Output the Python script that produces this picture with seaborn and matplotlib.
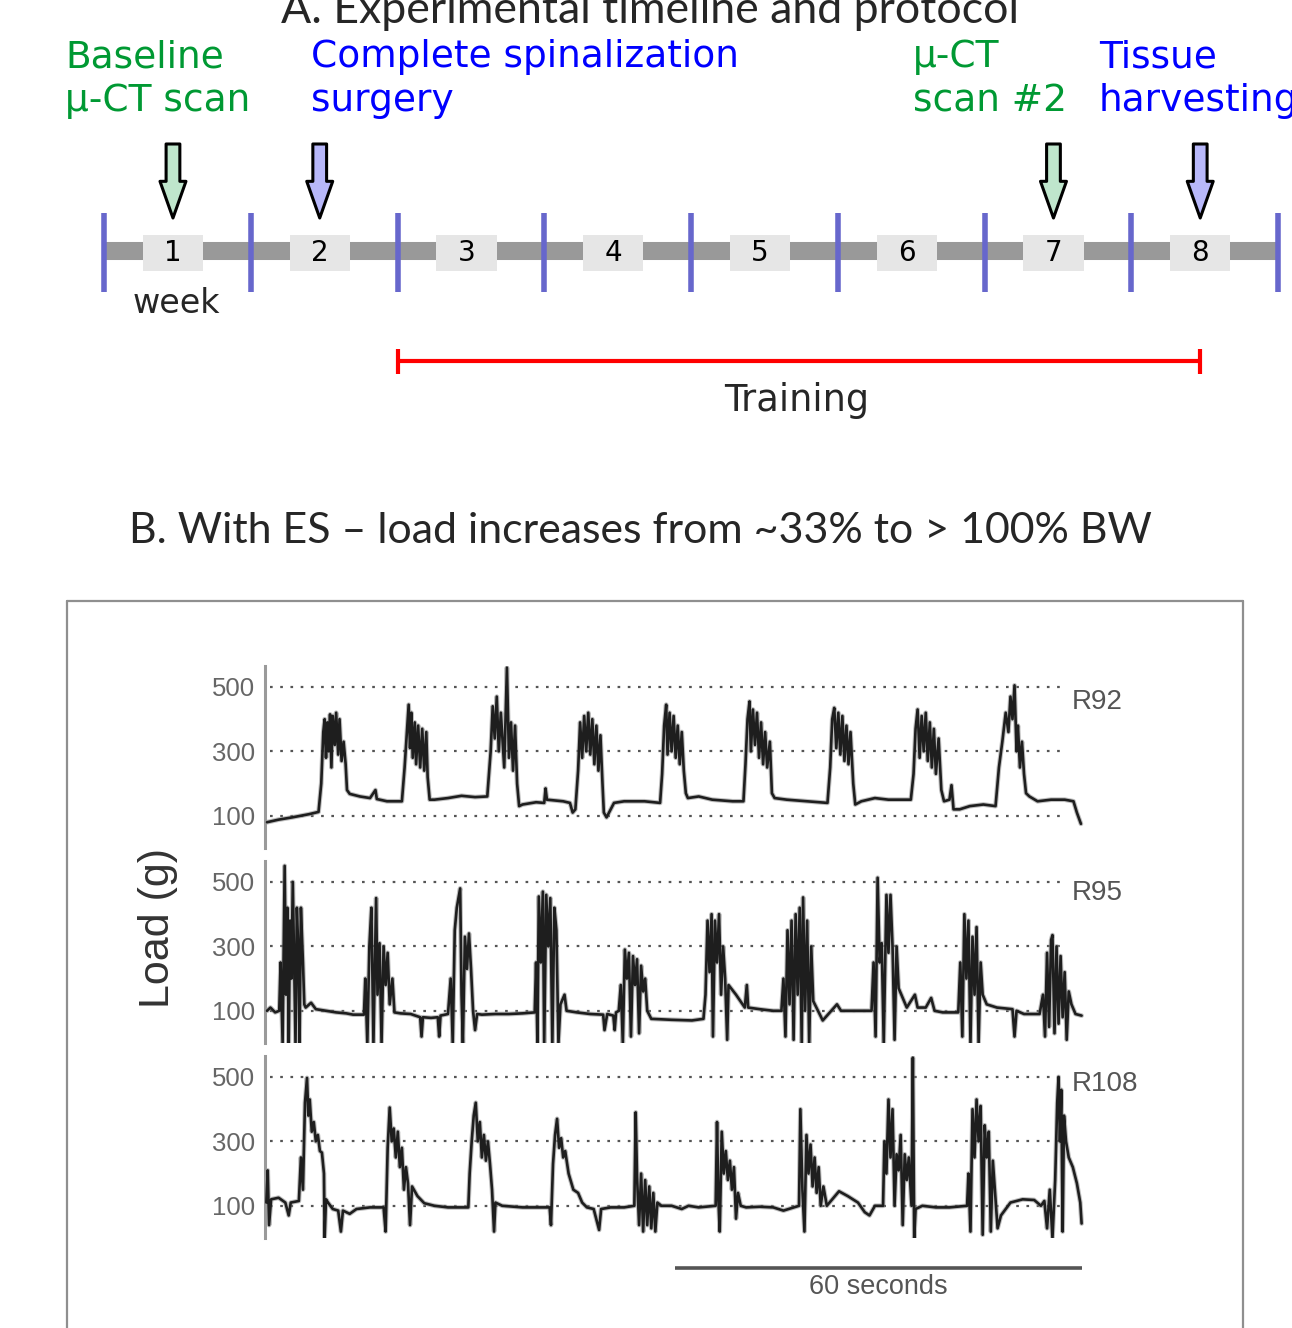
import matplotlib
matplotlib.use("Agg")
import matplotlib.pyplot as plt
import matplotlib.transforms as mtransforms
from matplotlib.patches import Rectangle
from matplotlib.lines import Line2D
import seaborn as sns

# ------------------------------------------------------------------ data
weeks = [1, 2, 3, 4, 5, 6, 7, 8]
event_weeks = [1, 2, 7, 8]
event_kinds = ["scan", "surgery", "scan", "surgery"]
event_lines = [["Baseline", "\u03bc-CT scan"],
               ["Complete spinalization", "surgery"],
               ["\u03bc-CT", "scan #2"],
               ["Tissue", "harvesting"]]
training_start_week = 3      # training starts with week 3
training_end_week = 8        # ends at tissue harvesting (mid week 8)

title_a = "A. Experimental timeline and protocol"
title_b = "B. With ES \u2013 load increases from ~33% to > 100% BW"
rat_names = ["R92", "R95", "R108"]
load_ticks = [100, 300, 500]
load_minor = [200, 400]
scale_bar_seconds = 60

# load traces: time (s) and load (g)
r92_t = [0.3, 2, 4, 6.5, 7.9,
         8.3, 8.6, 8.8, 9.0, 9.2, 9.4, 9.6, 9.8, 10.0, 10.3, 10.5, 10.8, 11.0, 11.3, 11.6, 11.9, 12.1, 12.5,
         14, 15.5, 16.3, 16.5, 18, 20.2,
         20.6, 20.9, 21.2, 21.4, 21.6, 21.8, 22.1, 22.3, 22.6, 22.9, 23.2, 23.5, 23.8, 24.0, 24.3, 25,
         27, 29, 31, 32.8,
         33.3, 33.6, 33.9, 34.2, 34.5, 34.8, 35.3, 35.7, 36.0, 36.3, 36.6, 36.9, 37.2, 37.5,
         38, 40, 41.2, 41.4, 41.6, 44, 45.0, 45.4, 45.8,
         46.2, 46.5, 46.8, 47.1, 47.4, 47.7, 48.0, 48.3, 48.6, 48.9, 49.2, 49.5, 49.8, 50.0, 50.4,
         51.5, 53, 56, 58.3,
         58.6, 58.9, 59.2, 59.4, 59.7, 60.0, 60.3, 60.6, 60.9, 61.2, 61.5, 61.8, 62.1, 62.4,
         64, 66, 69, 70.6,
         70.9, 71.2, 71.5, 71.7, 72.0, 72.3, 72.6, 72.9, 73.2, 73.5, 73.8, 74.1, 74.5, 74.8, 75.2,
         77, 80, 83.0,
         83.4, 83.7, 84.0, 84.3, 84.6, 84.9, 85.2, 85.5, 85.8, 86.1, 86.4, 86.8, 87.1,
         88, 90, 92, 95.3,
         95.7, 96.0, 96.3, 96.6, 96.9, 97.2, 97.5, 97.8, 98.1, 98.4, 98.7, 99.0, 99.4, 99.8, 100.2,
         101.0, 101.3, 101.6, 102.5, 104, 106, 107.8,
         108.3, 108.8, 109.3, 109.7, 110.0, 110.3, 110.6, 110.9, 111.1, 111.4, 111.7, 112.0, 112.3, 112.8,
         114, 116, 118, 119.3, 119.8, 120.4]
r92_g = [80, 88, 95, 105, 112,
         200, 360, 400, 280, 390, 300, 415, 250, 410, 320, 420, 290, 400, 270, 330, 260, 180, 168,
         160, 155, 180, 152, 145, 145,
         250, 350, 445, 310, 420, 280, 390, 260, 380, 250, 370, 240, 360, 220, 150, 150,
         155, 162, 158, 160,
         300, 440, 340, 470, 300, 420, 250, 560, 280, 390, 240, 380, 200, 130,
         135, 142, 140, 185, 150, 145, 140, 110, 120,
         240, 390, 280, 410, 300, 420, 290, 400, 260, 380, 240, 350, 200, 110, 95,
         140, 145, 145, 140,
         230, 380, 445, 290, 420, 300, 410, 280, 380, 260, 360, 240, 170, 155,
         160, 150, 145, 145,
         260, 400, 455, 300, 430, 320, 420, 280, 390, 260, 360, 250, 330, 170, 155,
         150, 145, 140,
         250, 400, 435, 310, 420, 290, 410, 270, 380, 260, 360, 200, 135,
         145, 155, 150, 150,
         230, 370, 430, 280, 410, 300, 420, 270, 390, 250, 370, 230, 340, 180, 145,
         150, 195, 120, 120, 130, 135, 130,
         250, 330, 420, 360, 470, 400, 505, 300, 380, 250, 330, 230, 170, 160,
         145, 150, 150, 145, 110, 75]

r95_t = [0.3, 0.8, 1.5, 2.1,
         2.3, 2.6, 2.9, 3.1, 3.3, 3.5, 3.7, 3.9, 4.1, 4.3, 4.5, 4.7, 4.9, 5.1, 5.3, 5.6, 5.8, 6.0,
         6.8, 7.5, 9, 10.5, 12, 13, 14.6,
         14.8, 15.1, 15.4, 15.7, 16.0, 16.4, 16.6, 16.9, 17.2, 17.5, 17.8, 18.1, 18.4, 18.8, 19.1,
         20, 21.5, 22.9, 23.1, 23.3, 24.5, 25.5, 25.7, 25.9, 27.0,
         27.4, 27.7, 28.0, 28.3, 28.8, 29.0, 29.2, 29.5, 29.8, 30.1, 30.4, 30.7, 31.0, 31.3,
         32, 34, 36, 38, 39.8,
         40.0, 40.2, 40.4, 40.7, 41.0, 41.2, 41.5, 41.8, 42.1, 42.4, 42.7, 43.0, 43.3, 43.6, 44.2, 44.5,
         46, 48, 49.9, 50.1, 50.5, 51.4, 51.6, 51.8, 52.2,
         52.5, 52.8, 53.1, 53.4, 53.7, 54.0, 54.3, 54.6, 54.9, 55.2, 55.5, 55.8, 56.1, 56.4,
         57.0, 60, 63, 64.7,
         65.0, 65.3, 65.6, 65.9, 66.1, 66.4, 66.7, 67.0, 67.3, 67.6, 67.9, 68.2, 68.4,
         69.5, 70.8, 71.1, 71.3, 73, 75, 76.2,
         76.5, 76.8, 77.1, 77.4, 77.7, 78.0, 78.3, 78.6, 78.9, 79.2, 79.4, 79.7, 80.0, 80.3, 80.6, 80.9,
         82.3, 84.4, 85, 87, 89.5,
         89.8, 90.1, 90.4, 90.7, 91.0, 91.3, 91.7, 92.0, 92.3, 92.6, 92.9, 93.2, 93.5,
         94.7, 95.9, 96.3, 97.5, 98.3, 98.8, 100, 102.3,
         102.6, 102.9, 103.2, 103.5, 103.8, 104.1, 104.4, 104.7, 105.0, 105.3, 105.6, 105.9,
         106.5, 108, 110.3, 110.6, 110.9, 112, 114.3,
         114.8, 115.1, 115.4, 115.7, 116.0, 116.2, 116.5, 116.8, 117.1, 117.4, 117.7, 118.0, 118.3, 118.6,
         119.0, 119.6, 120.5]
r95_g = [100, 110, 95, 100,
         250, 0, 550, 150, 420, 0, 380, 200, 500, 250, 0, 420, 300, 0, 420, 250, 120, 110,
         125, 105, 100, 95, 92, 88, 88,
         200, 0, 300, 420, 0, 450, 150, 310, 0, 300, 180, 280, 120, 200, 95,
         92, 90, 80, 20, 80, 78, 80, 20, 85, 90,
         200, 0, 350, 420, 480, 150, 0, 330, 230, 340, 230, 100, 40, 90,
         88, 90, 90, 92, 95,
         250, 0, 455, 250, 470, 0, 460, 300, 450, 0, 420, 350, 0, 120, 150, 100,
         95, 90, 88, 40, 90, 85, 40, 95, 100,
         180, 0, 290, 200, 280, 20, 270, 180, 260, 30, 240, 160, 200, 100,
         75, 72, 70, 75,
         150, 380, 220, 400, 20, 380, 250, 400, 150, 300, 200, 10, 180,
         150, 110, 180, 110, 105, 100, 100,
         200, 20, 350, 120, 380, 10, 400, 150, 420, 0, 452, 100, 380, 0, 300, 130,
         70, 120, 100, 100, 100,
         250, 20, 513, 250, 310, 0, 460, 280, 460, 300, 10, 300, 170,
         110, 150, 110, 110, 140, 100, 95, 95,
         250, 20, 400, 200, 380, 0, 330, 150, 360, 0, 250, 150,
         120, 110, 105, 20, 100, 90, 90,
         150, 20, 280, 50, 320, 335, 30, 300, 60, 270, 80, 220, 10, 160,
         120, 90, 85]

r108_t = [0.2, 0.4, 0.6, 0.9, 2.0, 3.0, 3.5, 3.8, 5.0,
          5.3, 5.6, 5.9, 6.2, 6.4, 6.6, 6.9, 7.2, 7.5, 7.8, 8.1, 8.4, 8.7, 8.8, 9.0, 9.3,
          10, 10.8, 11.2, 11.5, 12.5, 13.5, 15.5, 17.5,
          17.8, 18.1, 18.4, 18.7, 19.0, 19.3, 19.6, 19.9, 20.2, 20.5, 20.8, 21.1, 21.4, 21.7,
          22.5, 23.5, 25, 27, 30.0,
          30.2, 30.5, 30.8, 31.1, 31.4, 31.7, 32.0, 32.3, 32.6, 32.9, 33.2, 33.5, 33.8, 34.0,
          35, 38, 42.0,
          42.2, 42.5, 42.8, 43.1, 43.4, 43.7, 44.0, 44.3, 44.8, 45.5, 46.2, 46.8, 47.5,
          48.5, 49.3, 49.6, 51, 53, 54.5,
          54.7, 54.9, 55.2, 55.5, 55.8, 56.1, 56.4, 56.7, 57.0, 57.3, 57.6, 57.9,
          58.5, 60, 61.5, 62.5, 64, 66.5,
          66.7, 66.9, 67.1, 67.4, 67.7, 68.0, 68.3, 68.6, 68.9, 69.2, 69.5, 69.8, 70.2,
          71, 73, 75, 76.5, 78.8,
          79.0, 79.3, 79.6, 79.9, 80.2, 80.5, 80.8, 81.1, 81.4, 81.7, 82.0, 82.4, 82.9,
          84.7, 86, 87.5, 88.5, 89.2, 90.0, 91.2,
          91.4, 91.7, 92.0, 92.3, 92.6, 92.9, 93.2, 93.5, 93.8, 94.1, 94.4, 94.7, 95.0, 95.4,
          95.6, 95.8, 96.0, 97, 99, 101, 103.6,
          103.8, 104.1, 104.4, 104.7, 105.0, 105.3, 105.6, 105.9, 106.2, 106.5, 106.8, 107.1, 107.4,
          107.8, 108.1, 108.6, 110, 111.8, 113.5, 114.5, 115.0, 115.4, 115.8, 116.2, 116.6,
          116.9, 117.1, 117.3, 117.5, 117.7, 117.9, 118.2, 118.6, 119.2, 119.8, 120.3, 120.5]
r108_g = [110, 210, 40, 120, 125, 110, 70, 110, 115,
          250, 150, 420, 497, 380, 430, 330, 360, 300, 320, 270, 265, 200, 0, 120, 110,
          90, 85, 20, 85, 75, 90, 95, 95,
          20, 280, 405, 300, 340, 250, 330, 220, 280, 150, 220, 170, 40, 160,
          130, 108, 100, 95, 95,
          200, 300, 380, 420, 300, 360, 250, 320, 240, 300, 230, 150, 20, 110,
          100, 95, 95,
          40, 230, 320, 370, 280, 310, 250, 270, 200, 150, 140, 110, 95,
          90, 25, 90, 95, 95, 100,
          390, 190, 40, 200, 20, 180, 40, 160, 30, 140, 20, 110,
          100, 100, 90, 100, 95, 100,
          360, 120, 20, 330, 200, 270, 180, 240, 150, 220, 60, 140, 100,
          95, 97, 95, 85, 100,
          400, 150, 20, 320, 200, 290, 160, 250, 140, 220, 100, 160, 100,
          145, 130, 110, 80, 70, 100, 100,
          300, 200, 430, 250, 400, 100, 260, 210, 320, 40, 260, 180, 250, 100,
          560, 0, 90, 100, 95, 95, 100,
          200, 20, 400, 250, 430, 300, 410, 10, 350, 250, 330, 20, 240,
          120, 30, 70, 110, 120, 118, 100, 115, 30, 150, 0, 180,
          420, 500, 300, 460, 20, 380, 300, 250, 220, 170, 110, 45]

traces_t = [r92_t, r95_t, r108_t]
traces_g = [r92_g, r95_g, r108_g]

# ------------------------------------------------------------------ style
sns.set_style("white")
plt.rcParams["font.family"] = ["DejaVu Sans"]

W, H = 1292, 1328
fig = plt.figure(figsize=(W / 100, H / 100), dpi=100)


def rect(left, top, right, bottom):
    return [left / W, 1 - bottom / H, (right - left) / W, (bottom - top) / H]


GREEN = "#009933"
BLUE = "#0000ff"
FILL = {"scan": "#bfe6cc", "surgery": "#b8b8fa"}
TXT = {"scan": GREEN, "surgery": BLUE}

# ------------------------------------------------------------------ panel A
axA = fig.add_axes(rect(0, 0, W, 470))
wk_px = 146.75
axA.set_xlim(-104 / wk_px, (W - 104) / wk_px)
axA.set_ylim(470, 0)
axA.axis("off")

n_weeks = len(weeks)
axA.hlines(251, 0, n_weeks, color="#999999", lw=13, zorder=1)
axA.vlines(range(n_weeks + 1), 213, 292, color="#6767cc", lw=4, zorder=2)
box_off = 0.53
for w in weeks:
    xc = w - box_off
    axA.add_patch(Rectangle((xc - 0.205, 235), 0.41, 36, color="#e6e6e6", zorder=3, lw=0))
    axA.text(xc, 253, str(w), ha="center", va="center", fontsize=20, color="black", zorder=4)

axA.text(weeks[0] - box_off + 0.02, 313, "week", ha="center", va="baseline", fontsize=24)

label_x = [-0.266, 1.41, 5.513, 6.78]
for w, kind, lines, lx in zip(event_weeks, event_kinds, event_lines, label_x):
    xc = w - box_off
    axA.annotate("", xy=(xc, 218), xytext=(xc, 144),
                 arrowprops=dict(arrowstyle="simple,head_length=1.2,head_width=0.85,tail_width=0.45",
                                 mutation_scale=22, fc=FILL[kind], ec="black", lw=2.2,
                                 shrinkA=0, shrinkB=0), zorder=5)
    for i, line in enumerate(lines):
        axA.text(lx, 67 + 44 * i, line, ha="left", va="baseline", fontsize=27,
                 color=TXT[kind], clip_on=False)

tr_x0 = training_start_week - 1
tr_x1 = training_end_week - box_off
axA.hlines(361, tr_x0, tr_x1, color="#ff0000", lw=3)
axA.vlines([tr_x0, tr_x1], 349, 374, color="#ff0000", lw=3)
axA.text((797 - 104) / wk_px, 411, "Training", ha="center", va="baseline", fontsize=26.5)

tA = fig.text(650 / W, 1 - 23 / H, title_a, ha="center", va="baseline",
              fontsize=34, family=["Lato", "DejaVu Sans"])
tB = fig.text(640 / W, 1 - 543 / H, title_b, ha="center", va="baseline",
              fontsize=34, family=["Lato", "DejaVu Sans"])
fig.canvas.draw()
rend = fig.canvas.get_renderer()
for t, target in [(tA, 739), (tB, 1026)]:
    bw = t.get_window_extent(renderer=rend).width
    t.set_fontsize(t.get_fontsize() * target / bw)

# ------------------------------------------------------------------ panel B frame
frame_col = "#8f8f8f"
for xs, ys in [([67, 67], [601, H + 5]), ([67, 1243], [601, 601]), ([1243, 1243], [601, H + 5])]:
    fig.add_artist(Line2D([x / W for x in xs], [1 - y / H for y in ys], color=frame_col, lw=1.6))

# ------------------------------------------------------------------ traces
SANS = ["Liberation Sans", "DejaVu Sans"]
tops = [666, 861, 1056]
label_y = [453, 466, 478]
axes = []
for i, (tt, gg, name) in enumerate(zip(traces_t, traces_g, rat_names)):
    ax = fig.add_axes(rect(265, tops[i], 1085, tops[i] + 182))
    axes.append(ax)
    ax.set_xlim(0, 121)
    ax.set_ylim(0, 565)
    ax.patch.set_alpha(0)
    for s in ["top", "right", "bottom"]:
        ax.spines[s].set_visible(False)
    ax.spines["left"].set_color("#9a9a9a")
    ax.spines["left"].set_linewidth(2.2)
    ax.set_xticks([])
    ax.set_yticks(load_ticks)
    ax.set_yticks(load_minor, minor=True)
    ax.tick_params(axis="y", which="both", direction="out", length=4, width=2,
                   color="#8a8a8a", pad=3)
    ax.set_yticklabels([str(v) for v in load_ticks], fontsize=18.5, color="#666666",
                       family=SANS)
    ax.hlines(load_ticks, 0.8, 117.5, colors="#555555", lw=1.6,
              linestyles=[(0, (1.2, 3.4))], zorder=1)
    sns.lineplot(x=tt, y=gg, ax=ax, sort=False, estimator=None, color="#8a8a8a",
                 lw=3.4, zorder=2, alpha=0.55)
    sns.lineplot(x=tt, y=gg, ax=ax, sort=False, estimator=None, color="#1e1e1e",
                 lw=1.9, zorder=3)
    ax.set_xlabel("")
    ax.set_ylabel("")
    ax.text(119.0, label_y[i], name, ha="left", va="center", fontsize=20,
            color="#555555", family=SANS, clip_on=False)

fig.text(158 / W, 1 - 928 / H, "Load (g)", rotation=90, ha="center", va="center",
         fontsize=31, color="#333333", family=SANS)

axb = axes[-1]
trans = mtransforms.blended_transform_factory(axb.transData, axb.transAxes)
x_end = 120.5
axb.plot([x_end - scale_bar_seconds, x_end], [-0.165, -0.165], transform=trans,
         color="#555555", lw=2.6, clip_on=False, solid_capstyle="butt")
axb.text(x_end - scale_bar_seconds / 2, -0.27, f"{scale_bar_seconds} seconds", transform=trans,
         ha="center", va="center", fontsize=19.5, color="#555555", family=SANS)

fig.savefig("out.png", dpi=100)
